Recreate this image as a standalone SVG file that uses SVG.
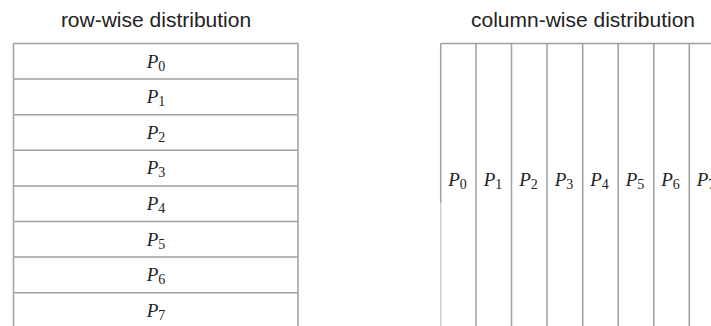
<svg xmlns="http://www.w3.org/2000/svg" width="711" height="326" viewBox="0 0 711 326">
<style>
.title{font-family:"Liberation Sans",Arial,sans-serif;font-size:21px;fill:#222;text-anchor:middle}
.lbl{font-family:"Liberation Serif","Times New Roman",serif;font-style:italic;font-size:19px;fill:#222;text-anchor:middle}
.sub{font-style:normal;font-size:14px}
.ln{stroke:#a0a0a0;stroke-width:1.5;fill:none}
.faint{stroke:#d0d0d0;stroke-width:1.5;fill:none}
</style>
<rect width="711" height="326" fill="#fff"/>
<text class="title" x="156" y="27">row-wise distribution</text>
<text class="title" x="583" y="27">column-wise distribution</text>
<g id="connectors">
<path class="ln" d="M13.5 43.5H298M13.5 79.1H298M13.5 114.7H298M13.5 150.3H298M13.5 185.9H298M13.5 221.5H298M13.5 257.1H298M13.5 292.7H298M13.5 43.5V326M298 43.5V326"/>
<path class="ln" d="M440.7 43.5H711M440.7 43.5V203M476 43.5V326M511.5 43.5V326M547 43.5V326M582.7 43.5V326M618.2 43.5V326M653.8 43.5V326M689.3 43.5V326"/>
<path class="faint" d="M440.7 203V326"/>
</g>
<g id="row0"><text class="lbl" x="156" y="67.5">P<tspan class="sub" dy="3">0</tspan></text></g>
<g id="row1"><text class="lbl" x="156" y="103.1">P<tspan class="sub" dy="3">1</tspan></text></g>
<g id="row2"><text class="lbl" x="156" y="138.7">P<tspan class="sub" dy="3">2</tspan></text></g>
<g id="row3"><text class="lbl" x="156" y="174.3">P<tspan class="sub" dy="3">3</tspan></text></g>
<g id="row4"><text class="lbl" x="156" y="209.9">P<tspan class="sub" dy="3">4</tspan></text></g>
<g id="row5"><text class="lbl" x="156" y="245.5">P<tspan class="sub" dy="3">5</tspan></text></g>
<g id="row6"><text class="lbl" x="156" y="281.1">P<tspan class="sub" dy="3">6</tspan></text></g>
<g id="row7"><text class="lbl" x="156" y="316.7">P<tspan class="sub" dy="3">7</tspan></text></g>
<g id="col0"><text class="lbl" x="457.5" y="186">P<tspan class="sub" dy="3">0</tspan></text></g>
<g id="col1"><text class="lbl" x="493" y="186">P<tspan class="sub" dy="3">1</tspan></text></g>
<g id="col2"><text class="lbl" x="528.5" y="186">P<tspan class="sub" dy="3">2</tspan></text></g>
<g id="col3"><text class="lbl" x="564" y="186">P<tspan class="sub" dy="3">3</tspan></text></g>
<g id="col4"><text class="lbl" x="599.5" y="186">P<tspan class="sub" dy="3">4</tspan></text></g>
<g id="col5"><text class="lbl" x="635" y="186">P<tspan class="sub" dy="3">5</tspan></text></g>
<g id="col6"><text class="lbl" x="670.5" y="186">P<tspan class="sub" dy="3">6</tspan></text></g>
<g id="col7"><text class="lbl" x="706" y="186">P<tspan class="sub" dy="3">7</tspan></text></g>
</svg>
